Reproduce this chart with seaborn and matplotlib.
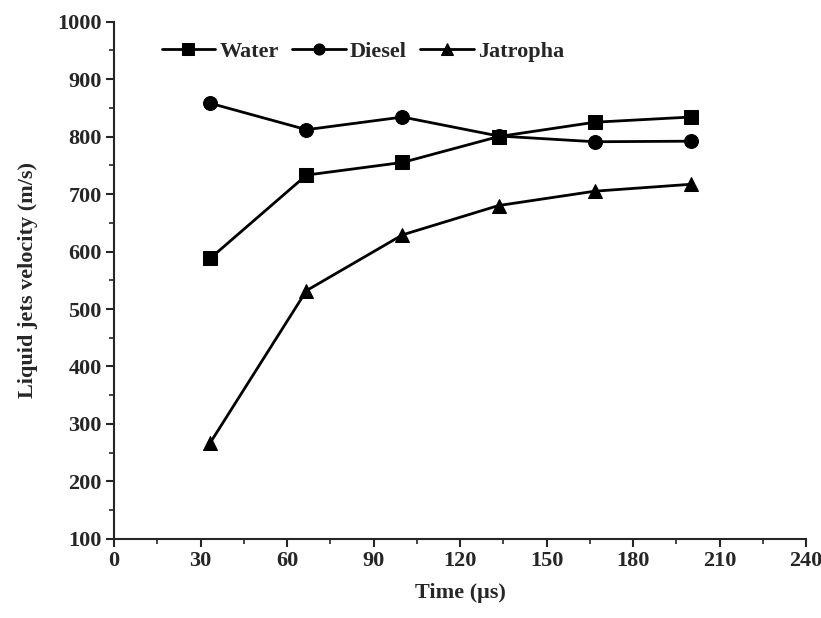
import pandas as pd
import matplotlib.pyplot as plt
import seaborn as sns
from matplotlib.ticker import MultipleLocator

# Data
time_us = [33.3, 66.7, 100, 133.3, 166.7, 200]
water = [588, 733, 755, 800, 825, 834]
diesel = [858, 812, 834, 801, 791, 792]
jatropha = [267, 532, 629, 680, 705, 717]
fluids = ["Water", "Diesel", "Jatropha"]

df = pd.DataFrame({
    "Time": time_us * 3,
    "Velocity": water + diesel + jatropha,
    "Fluid": [f for f in fluids for _ in time_us],
})

sns.set_style("ticks")
plt.rcParams["font.family"] = ["Liberation Serif", "DejaVu Serif"]
plt.rcParams["font.weight"] = "bold"

fig = plt.figure(figsize=(8.21, 6.18), dpi=100)
ax = fig.add_axes([0.139, 0.128, 0.843, 0.837])

sns.lineplot(data=df, x="Time", y="Velocity", hue="Fluid", style="Fluid",
             palette=["black"] * 3, markers=["s", "o", "^"], dashes=False,
             markersize=10, linewidth=2, markeredgecolor="black", ax=ax)

ax.set_xlim(0, 240)
ax.set_ylim(100, 1000)
ax.xaxis.set_major_locator(MultipleLocator(30))
ax.xaxis.set_minor_locator(MultipleLocator(15))
ax.yaxis.set_major_locator(MultipleLocator(100))
ax.yaxis.set_minor_locator(MultipleLocator(50))
ax.tick_params(which="major", length=6, width=1.5, labelsize=16, direction="out", pad=3)
ax.tick_params(which="minor", length=3.5, width=1.2, direction="out")
for lab in ax.get_xticklabels() + ax.get_yticklabels():
    lab.set_fontweight("bold")

for s in ["top", "right"]:
    ax.spines[s].set_visible(False)
for s in ["left", "bottom"]:
    ax.spines[s].set_linewidth(1.5)

ax.set_xlabel("Time (\u03bcs)", fontsize=16, fontweight="bold", labelpad=8)
ax.set_ylabel("Liquid jets velocity (m/s)", fontsize=16, fontweight="bold", labelpad=14)

leg = ax.legend(loc="upper left", bbox_to_anchor=(0.04, 1.0), ncol=3, frameon=False,
                handlelength=2.4, handletextpad=0.2, columnspacing=0.6, markerscale=0.8,
                prop={"size": 16, "weight": "bold"})

fig.savefig("out.png", dpi=100)
